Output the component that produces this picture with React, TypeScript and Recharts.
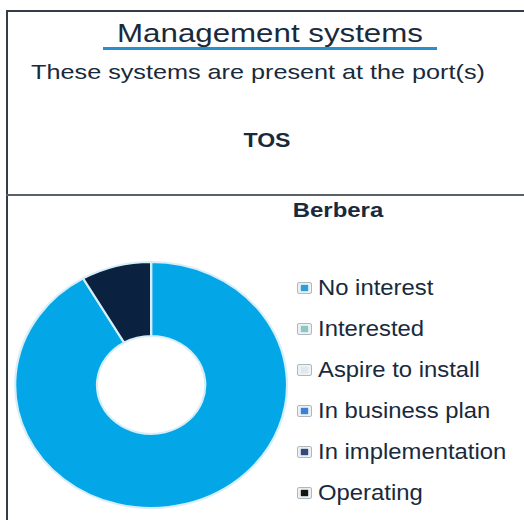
import { PieChart, Pie, Cell } from "recharts";

const categories = [
  "No interest",
  "Interested",
  "Aspire to install",
  "In business plan",
  "In implementation",
  "Operating",
];
// Berbera, TOS: share of answers per status
const values = [11, 0, 0, 0, 0, 1];
const sliceColors = ["#03a6e6", "#8cc8c2", "#dde8ee", "#3a80d4", "#33477a", "#0b2140"];
const legendColors = ["#2c9fd8", "#8cc8c2", "#dfe8ee", "#3a80d4", "#34497a", "#151515"];

const data = categories.map((name, i) => ({ name, value: values[i] }));

const ink = "#182a3c";
const font = '"Liberation Sans", Arial, sans-serif';

const Label = ({
  text,
  x,
  top,
  size,
  bold,
  stretch,
}: {
  text: string;
  x: number;
  top: number;
  size: number;
  bold?: boolean;
  stretch: number;
}) => (
  <div
    style={{
      position: "absolute",
      left: x,
      top,
      fontSize: size,
      lineHeight: 1,
      fontWeight: bold ? 700 : 400,
      whiteSpace: "nowrap",
      color: ink,
      transform: `translateX(-50%) scaleX(${stretch})`,
    }}
  >
    {text}
  </div>
);

const LegendIcon = ({ color }: { color: string }) => (
  <div
    style={{
      position: "absolute",
      left: 0,
      top: 0,
      width: 15,
      height: 12,
      boxSizing: "border-box",
      border: "1.5px solid #aeb8bf",
      background: "#eef2f4",
      borderRadius: 2,
    }}
  >
    <div
      style={{
        position: "absolute",
        left: 2.5,
        top: 1.5,
        width: 7,
        height: 6,
        background: color,
        boxShadow: `0 0 1.5px ${color}`,
      }}
    />
  </div>
);

export default function App() {
  return (
    <div
      style={{
        position: "absolute",
        left: 0,
        top: 0,
        width: 524,
        height: 520,
        overflow: "hidden",
        background: "#fff",
        fontFamily: font,
      }}
    >
      {/* frame */}
      <div style={{ position: "absolute", left: 6, top: 10, width: 2, height: 520, background: "#333d47" }} />
      <div style={{ position: "absolute", left: 6, top: 10, width: 524, height: 2, background: "#333d47" }} />
      <div style={{ position: "absolute", left: 6, top: 194, width: 524, height: 2, background: "#5a6168" }} />

      <Label text="Management systems" x={270} top={20} size={26.5} stretch={1.18} />
      <div style={{ position: "absolute", left: 103, top: 47, width: 334, height: 3, background: "#2b8fcf" }} />
      <Label text="These systems are present at the port(s)" x={258} top={61} size={21} stretch={1.2} />
      <Label text="TOS" x={267} top={129} size={21} bold stretch={1.1} />
      <Label text="Berbera" x={338} top={199} size={21} bold stretch={1.14} />

      <div
        style={{
          position: "absolute",
          left: 13,
          top: 260,
          width: 250,
          height: 250,
          transform: "scaleX(1.105)",
          transformOrigin: "left top",
        }}
      >
        <PieChart width={250} height={250} margin={{ top: 0, right: 0, bottom: 0, left: 0 }}>
          <Pie
            data={data}
            dataKey="value"
            nameKey="name"
            cx={125}
            cy={125}
            innerRadius={49}
            outerRadius={123}
            startAngle={90}
            endAngle={-270}
            stroke="#d6eef8"
            strokeWidth={2}
            isAnimationActive={false}
          >
            {data.map((entry, i) => (
              <Cell key={entry.name} fill={sliceColors[i]} />
            ))}
          </Pie>
        </PieChart>
      </div>

      {categories.map((name, i) => (
        <div key={name} style={{ position: "absolute", left: 297, top: 282 + i * 41, height: 24 }}>
          <LegendIcon color={legendColors[i]} />
          <div
            style={{
              position: "absolute",
              left: 21,
              top: -5,
              fontSize: 22.5,
              lineHeight: 1,
              whiteSpace: "nowrap",
              color: ink,
              transform: "scaleX(1.06)",
              transformOrigin: "left top",
            }}
          >
            {name}
          </div>
        </div>
      ))}
    </div>
  );
}
